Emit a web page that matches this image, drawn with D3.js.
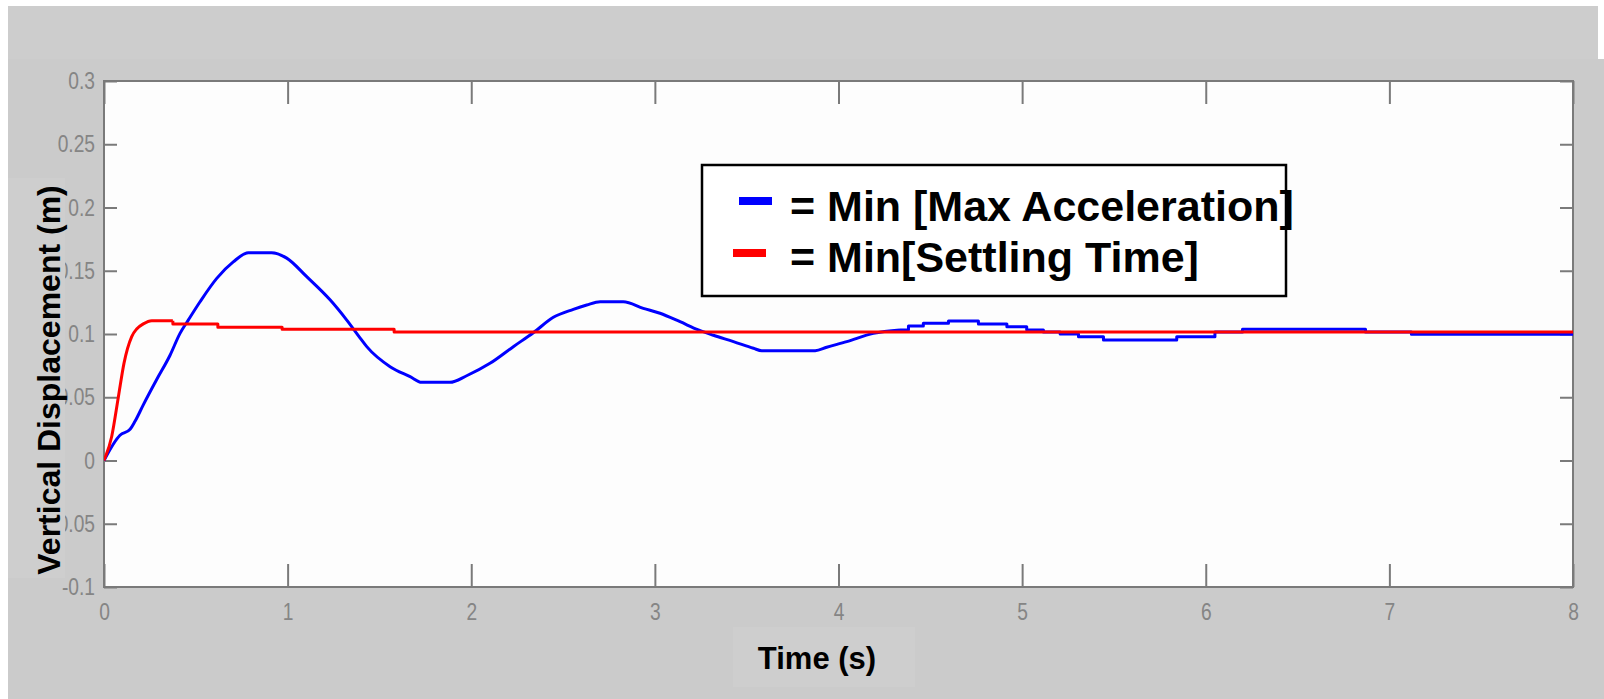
<!DOCTYPE html>
<html>
<head>
<meta charset="utf-8">
<script src="https://cdn.jsdelivr.net/npm/d3@7/dist/d3.min.js"></script>
<style>
  html, body { margin: 0; padding: 0; background: #ffffff; }
  svg { display: block; }
</style>
</head>
<body>
<svg id="chart" width="1604" height="699"></svg>
<script>
// Axis ticks
const timeTicks = [0, 1, 2, 3, 4, 5, 6, 7, 8];
const dispTicks = [-0.1, -0.05, 0, 0.05, 0.1, 0.15, 0.2, 0.25, 0.3];
const dispTickLabels = ["-0.1", "-0.05", "0", "0.05", "0.1", "0.15", "0.2", "0.25", "0.3"];

// Series 1: minimum of maximum acceleration (blue), oscillating part
const accelTime = [
  0, 0.087, 0.142, 0.169, 0.214, 0.287, 0.359, 0.414, 0.459, 0.523, 0.614, 0.704,
  0.786, 0.913, 0.995, 1.104, 1.231, 1.322, 1.394, 1.431, 1.558, 1.667, 1.73, 1.884,
  1.975, 2.102, 2.229, 2.338, 2.447, 2.556, 2.629, 2.702, 2.828, 2.937, 3.028, 3.137,
  3.237, 3.319, 3.428, 3.537, 3.582, 3.873, 3.936, 4.045, 4.19, 4.335
];
const accelDisp = [
  0, 0.020, 0.0247, 0.031, 0.044, 0.064, 0.083, 0.1005, 0.111, 0.1255, 0.144, 0.157,
  0.1643, 0.1643, 0.160, 0.1453, 0.127, 0.111, 0.097, 0.090, 0.0742, 0.0663, 0.0618, 0.0618,
  0.067, 0.0768, 0.090, 0.101, 0.1132, 0.1195, 0.1229, 0.1255, 0.1255, 0.1203, 0.1164, 0.1097,
  0.1032, 0.099, 0.094, 0.0887, 0.0868, 0.0868, 0.0895, 0.094, 0.1005, 0.1032
];
// Series 1, sample-and-hold tail
const accelStepTime = [
  4.335, 4.381, 4.381, 4.462, 4.462, 4.599, 4.599, 4.762, 4.762, 4.917, 4.917, 5.025, 5.025,
  5.116, 5.116, 5.207, 5.207, 5.307, 5.307, 5.443, 5.443, 5.842, 5.842, 6.05, 6.05,
  6.2, 6.2, 6.87, 6.87, 7.12, 7.12, 8
];
const accelStepDisp = [
  0.1032, 0.1032, 0.1063, 0.1063, 0.1085, 0.1085, 0.1103, 0.1103, 0.1079, 0.1079, 0.1058, 0.1058, 0.1032,
  0.1032, 0.1015, 0.1015, 0.1000, 0.1000, 0.0979, 0.0979, 0.0953, 0.0953, 0.0979, 0.0979, 0.1015,
  0.1015, 0.1037, 0.1037, 0.1015, 0.1015, 0.0998, 0.0998
];

// Series 2: minimum settling time (red), rise then held steps
const settleRiseTime = [0, 0.042, 0.078, 0.109, 0.151, 0.178, 0.214, 0.26, 0.375];
const settleRiseDisp = [0, 0.019, 0.050, 0.077, 0.098, 0.104, 0.108, 0.1105, 0.1105];
const settleStepTime = [0.375, 0.375, 0.62, 0.62, 0.97, 0.97, 1.58, 1.58, 8];
const settleStepDisp = [0.1105, 0.108, 0.108, 0.1053, 0.1053, 0.1037, 0.1037, 0.1015, 0.1015];

const legendLabels = ["= Min [Max Acceleration]", "= Min[Settling Time]"];
const seriesColors = ["#0000ff", "#ff0000"];

const svg = d3.select("#chart");

// Figure background panels
svg.append("rect").attr("x", 8).attr("y", 6).attr("width", 1590).attr("height", 54).attr("fill", "#cdcdcd");
svg.append("rect").attr("x", 8).attr("y", 59).attr("width", 1596).attr("height", 640).attr("fill", "#cbcbcb");

const plot = { left: 104, top: 81, right: 1573, bottom: 587 };

const x = d3.scaleLinear().domain([0, 8]).range([plot.left, plot.right]);
const y = d3.scaleLinear().domain([-0.1, 0.3]).range([plot.bottom, plot.top]);

// Plot area
svg.append("rect")
  .attr("x", plot.left).attr("y", plot.top)
  .attr("width", plot.right - plot.left).attr("height", plot.bottom - plot.top)
  .attr("fill", "#fdfdfd");

svg.append("clipPath").attr("id", "plotClip")
  .append("rect")
  .attr("x", plot.left).attr("y", plot.top)
  .attr("width", plot.right - plot.left).attr("height", plot.bottom - plot.top);

const tickFont = "'Liberation Sans', Arial, sans-serif";
const axisGrey = "#7a7a7a";

function styleAxis(g) {
  g.select(".domain").remove();
  g.selectAll(".tick line").attr("stroke", axisGrey).attr("stroke-width", 2);
  g.selectAll(".tick text")
    .attr("fill", "#858585")
    .style("font-family", tickFont)
    .style("font-size", "24px");
}

// Tick labels use a condensed set width
function condense(g) {
  g.selectAll(".tick text").each(function () {
    const len = this.getComputedTextLength();
    if (len > 0) {
      d3.select(this).attr("textLength", len * 0.8).attr("lengthAdjust", "spacingAndGlyphs");
    }
  });
}

// Bottom axis with inward ticks and labels
const xBottom = svg.append("g")
  .attr("transform", `translate(0,${plot.bottom})`)
  .call(d3.axisBottom(x).tickValues(timeTicks).tickFormat(d3.format("d")).tickSizeInner(-23).tickSizeOuter(0));
styleAxis(xBottom);
xBottom.selectAll(".tick text").attr("dy", "0.35em").attr("y", 25);
condense(xBottom);

// Top axis, ticks only
const xTop = svg.append("g")
  .attr("transform", `translate(0,${plot.top})`)
  .call(d3.axisTop(x).tickValues(timeTicks).tickFormat("").tickSizeInner(-23).tickSizeOuter(0));
styleAxis(xTop);

// Left axis with labels
const yLeft = svg.append("g")
  .attr("transform", `translate(${plot.left},0)`)
  .call(d3.axisLeft(y).tickValues(dispTicks).tickFormat((d, i) => dispTickLabels[i]).tickSizeInner(-13).tickSizeOuter(0));
styleAxis(yLeft);
yLeft.selectAll(".tick text").attr("x", -9);
condense(yLeft);

// Right axis, ticks only
const yRight = svg.append("g")
  .attr("transform", `translate(${plot.right},0)`)
  .call(d3.axisRight(y).tickValues(dispTicks).tickFormat("").tickSizeInner(-13).tickSizeOuter(0));
styleAxis(yRight);

// Plot frame
svg.append("rect")
  .attr("x", plot.left).attr("y", plot.top)
  .attr("width", plot.right - plot.left).attr("height", plot.bottom - plot.top)
  .attr("fill", "none").attr("stroke", axisGrey).attr("stroke-width", 2);

// Response curves: smooth parts use a monotone curve, held parts straight segments
const smoothLine = d3.line().x(d => x(d[0])).y(d => y(d[1])).curve(d3.curveMonotoneX);
const stepLine = d3.line().x(d => x(d[0])).y(d => y(d[1]));
const pairs = (ts, vs) => ts.map((t, i) => [t, vs[i]]);

const curves = svg.append("g").attr("clip-path", "url(#plotClip)");
function drawCurve(pts, gen, color) {
  curves.append("path").datum(pts)
    .attr("d", gen).attr("fill", "none")
    .attr("stroke", color).attr("stroke-width", 3)
    .attr("stroke-linejoin", "round");
}
drawCurve(pairs(accelTime, accelDisp), smoothLine, seriesColors[0]);
drawCurve(pairs(accelStepTime, accelStepDisp), stepLine, seriesColors[0]);
drawCurve(pairs(settleRiseTime, settleRiseDisp), smoothLine, seriesColors[1]);
drawCurve(pairs(settleStepTime, settleStepDisp), stepLine, seriesColors[1]);

// Legend
const legend = svg.append("g");
legend.append("rect")
  .attr("x", 702).attr("y", 165).attr("width", 584).attr("height", 131)
  .attr("fill", "#ffffff").attr("stroke", "#000000").attr("stroke-width", 2.5);
const legendRows = [
  { mx: 739, my: 201, ty: 221 },
  { mx: 733, my: 253, ty: 272 }
];
legendRows.forEach((r, i) => {
  legend.append("rect")
    .attr("x", r.mx).attr("y", r.my - 4).attr("width", 33).attr("height", 8)
    .attr("fill", seriesColors[i]);
  legend.append("text")
    .attr("x", 790).attr("y", r.ty)
    .attr("fill", "#000000")
    .style("font-family", "'Liberation Sans', Arial, sans-serif")
    .style("font-weight", "bold")
    .style("font-size", "43px")
    .text(legendLabels[i]);
});

// Axis titles with their background boxes
svg.append("rect").attr("x", 8).attr("y", 178).attr("width", 57).attr("height", 400).attr("fill", "#cecece");
svg.append("text")
  .attr("transform", "translate(60,380) rotate(-90)")
  .attr("text-anchor", "middle")
  .attr("fill", "#000000")
  .style("font-family", "'Liberation Sans', Arial, sans-serif")
  .style("font-weight", "bold")
  .style("font-size", "32px")
  .text("Vertical Displacement (m)");

svg.append("rect").attr("x", 733).attr("y", 627).attr("width", 182).attr("height", 60).attr("fill", "#cecece");
svg.append("text")
  .attr("x", 817).attr("y", 669)
  .attr("text-anchor", "middle")
  .attr("fill", "#000000")
  .style("font-family", "'Liberation Sans', Arial, sans-serif")
  .style("font-weight", "bold")
  .style("font-size", "31px")
  .text("Time (s)");
</script>
</body>
</html>
